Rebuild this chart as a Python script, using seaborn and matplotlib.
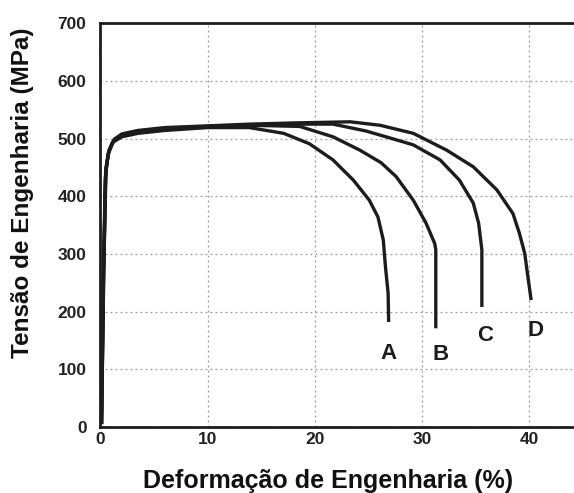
import matplotlib
matplotlib.use("Agg")
import matplotlib.pyplot as plt
import seaborn as sns
import pandas as pd

# ---- data ----
specimens = ["A", "B", "C", "D"]

strain_A = [0.1, 0.25, 0.45, 0.7, 1.1, 2.0, 3.5, 6.0, 10.0, 13.9, 17.1, 19.5, 21.7, 23.6, 25.1, 25.9, 26.4, 26.6, 26.85, 26.9]
stress_A = [5, 250, 430, 472, 493, 503, 509, 514, 519, 519, 509, 491, 463, 428, 393, 364, 324, 278, 232, 182]

strain_B = [0.1, 0.28, 0.48, 0.75, 1.2, 2.0, 3.5, 6.0, 10.0, 14.0, 18.6, 21.7, 24.2, 26.2, 27.6, 29.2, 30.4, 31.2, 31.3, 31.3]
stress_B = [5, 260, 440, 475, 495, 505, 511, 516, 520, 523, 521, 503, 480, 458, 434, 393, 353, 318, 307, 171]

strain_C = [0.1, 0.3, 0.5, 0.78, 1.25, 2.0, 3.5, 6.0, 10.0, 14.0, 18.0, 21.7, 24.8, 27.2, 29.2, 31.7, 33.5, 34.8, 35.3, 35.6, 35.6]
stress_C = [5, 270, 445, 477, 497, 506, 512, 517, 521, 523, 525, 525, 513, 500, 489, 463, 428, 388, 353, 307, 208]

strain_D = [0.1, 0.32, 0.52, 0.8, 1.3, 2.0, 3.5, 6.0, 10.0, 14.0, 18.0, 23.3, 26.1, 29.2, 32.3, 34.8, 37.0, 38.5, 39.1, 39.6, 39.9, 40.2]
stress_D = [5, 280, 450, 480, 499, 508, 514, 519, 522, 525, 527, 529, 523, 509, 480, 451, 411, 370, 336, 301, 260, 220]

label_x = [26.9, 31.7, 35.9, 40.6]
label_y = [128, 125, 159, 168]

x_ticks = [0, 10, 20, 30, 40]
y_ticks = [0, 100, 200, 300, 400, 500, 600, 700]

xlabel = "Deformação de Engenharia (%)"
ylabel = "Tensão de Engenharia (MPa)"

# ---- build long-form table ----
frames = []
for name, xs, ys in zip(specimens,
                        [strain_A, strain_B, strain_C, strain_D],
                        [stress_A, stress_B, stress_C, stress_D]):
    frames.append(pd.DataFrame({"strain": xs, "stress": ys, "specimen": name}))
df = pd.concat(frames, ignore_index=True)

sns.set_theme(style="white")
plt.rcParams["font.family"] = ["Liberation Sans", "DejaVu Sans"]
plt.rcParams["font.weight"] = "bold"

fig = plt.figure(figsize=(5.74, 4.93), dpi=100)
ax = fig.add_axes([0.175, 0.134, 0.825, 0.819])

sns.lineplot(data=df, x="strain", y="stress", hue="specimen", units="specimen",
             estimator=None, sort=False, palette=["#1c1c1c"] * 4,
             linewidth=2.4, legend=False, ax=ax)
for line in ax.get_lines():
    line.set_solid_joinstyle("round")
    line.set_solid_capstyle("butt")

ax.set_xlim(0, 44.2)
ax.set_ylim(0, 700)
ax.set_xticks(x_ticks)
ax.set_yticks(y_ticks)
ax.set_xticklabels([str(t) for t in x_ticks], fontsize=12.5, fontweight="bold", color="#222222")
ax.set_yticklabels([str(t) for t in y_ticks], fontsize=12.5, fontweight="bold", color="#222222")
ax.tick_params(axis="x", length=0, pad=4)
ax.tick_params(axis="y", length=0, pad=10)

ax.grid(True, color="#9a9a9a", linestyle=(0, (1.5, 2.5)), linewidth=0.9)

for side in ["top", "left", "bottom"]:
    ax.spines[side].set_visible(True)
    ax.spines[side].set_color("#1c1c1c")
    ax.spines[side].set_linewidth(2.0)
ax.spines["right"].set_visible(False)

for name, lx, ly in zip(specimens, label_x, label_y):
    ax.text(lx, ly, name, fontsize=16, fontweight="bold", color="#1c1c1c",
            ha="center", va="center")

ax.set_xlabel(xlabel, fontsize=18, fontweight="bold", color="#111111")
ax.set_ylabel(ylabel, fontsize=17.5, fontweight="bold", color="#111111")
ax.xaxis.set_label_coords(0.48, -0.105)
ax.yaxis.set_label_coords(-0.14, 0.58)

fig.savefig("out.png", dpi=100, facecolor="white")
